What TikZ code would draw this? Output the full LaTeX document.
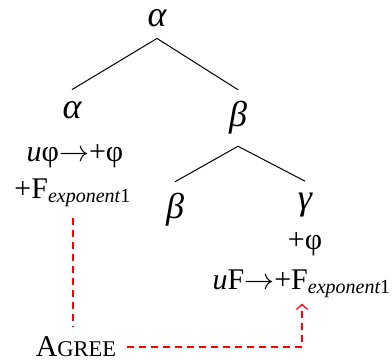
\documentclass[tikz,border=0pt]{standalone}
\usepackage{fontspec}
\setmainfont{Liberation Serif}
\usetikzlibrary{arrows.meta}
\tikzset{
  cat/.style    ={font=\Large\itshape, inner sep=4.5pt},
  feat/.style   ={font=\large, inner sep=1pt},
  branch/.style ={draw=black, line width=0.4pt},
  agr/.style    ={draw=red, line width=0.5pt, dash pattern=on 2.8pt off 2pt},
}
\newcommand{\expsub}{\textsubscript{\itshape exponent\upshape 1}}

\begin{document}
\begin{tikzpicture}[x=0.4pt,y=-0.4pt]
\useasboundingbox (0,0) rectangle (392,362);
% tree
\node[cat] (root) at (157,18) {α};
\node[cat] (aL) at (72,110) {α};
\node[cat] (bR) at (238,118) {β};
\node[cat] (bL) at (175,210) {β};
\node[cat] (gR) at (305,205) {γ};
\draw[branch] (root.south) -- (aL.north);
\draw[branch] (root.south) -- (bR.north);
\draw[branch] (bR.south) -- (bL.north);
\draw[branch] (bR.south) -- (gR.north);
% features
\node[feat] (fL1) at (75,156) {\textit{u}φ$\rightarrow$+φ};
\node[feat] (fL2) at (73,193) {+F\expsub};
\node[feat] (fR1) at (305,244) {+φ};
\node[feat] (fR2) at (302,284) {\textit{u}F$\rightarrow$+F\expsub};
% agree
\node[feat,inner xsep=4pt] (agree) at (76,347) {A{\small GREE}};
\draw[agr] (fL2.south) ++(0,8) coordinate (t) -- ([yshift=3pt]t |- agree.north);
\draw[agr,-{Straight Barb[length=2pt,width=4.5pt]}] (agree.east) -| ([yshift=-1pt]fR2.south);
\end{tikzpicture}
\end{document}
